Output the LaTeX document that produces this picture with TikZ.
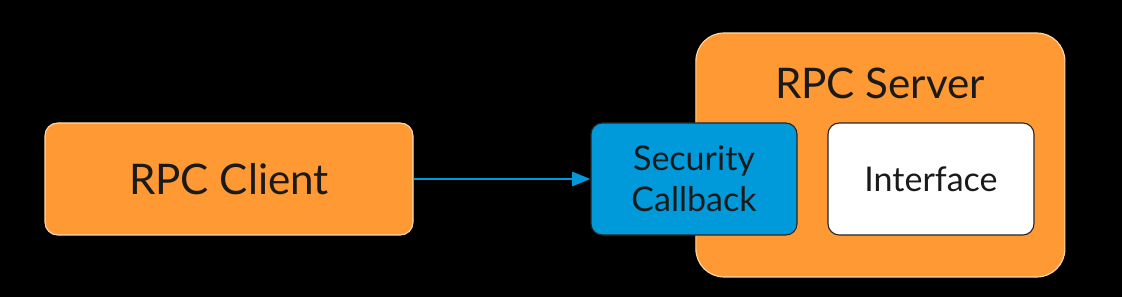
\documentclass[tikz,border=0pt]{standalone}
\usepackage{fontspec}
\setmainfont{Lato}
\usepackage{tikz}
\usetikzlibrary{arrows.meta}

\definecolor{rpcorange}{HTML}{FF9933}
\definecolor{rpcedge}{HTML}{FFD9A8}
\definecolor{cbblue}{HTML}{0099DA}
\definecolor{txtdark}{HTML}{1A1A1A}

\tikzset{
  orangebox/.style={draw=rpcedge,fill=rpcorange,line width=0.8pt,text=txtdark},
  innerbox/.style={draw=black!85,line width=0.8pt,rounded corners=8pt,
    minimum width=5.15cm,minimum height=2.8cm,text=txtdark,align=center,
    font=\fontsize{24.2}{29}\selectfont}
}

\begin{document}
\begin{tikzpicture}[scale=1]

  % background
  \fill[black] (0,0) rectangle (28.05,7.425);
  \useasboundingbox (0,0) rectangle (28.05,7.425);

  % RPC client
  \node[orangebox,rounded corners=9pt,minimum width=9.2cm,minimum height=2.8cm,
    font=\fontsize{30}{34}\selectfont] (client) at (5.725,2.95) {RPC Client};

  % RPC server (container)
  \node[orangebox,rounded corners=20pt,minimum width=9.225cm,minimum height=6.1cm] (server) at (22.01,3.55) {};
  \node[text=txtdark,font=\fontsize{30}{34}\selectfont] (serverlabel) at (22.0,5.35) {RPC Server};

  % security callback and interface
  \node[innerbox,fill=cbblue] (callback) at (17.35,2.95) {Security\\Callback};
  \node[innerbox,fill=white] (iface) at (23.275,2.95) {Interface};

  % call from client
  \draw[cbblue,line width=1.7pt,-{Triangle[length=13pt,width=10pt]}] (client) -- (callback);

\end{tikzpicture}
\end{document}
